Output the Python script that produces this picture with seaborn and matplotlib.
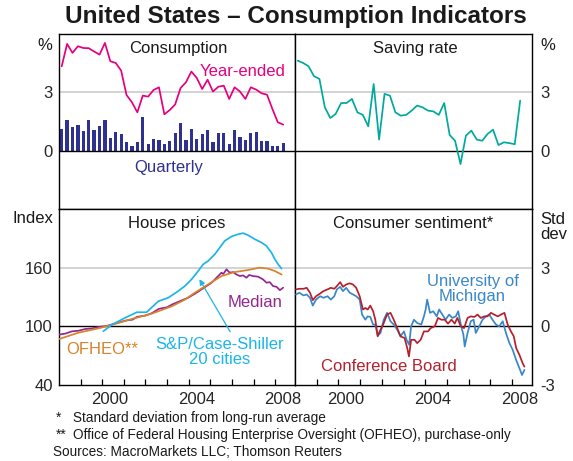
import numpy as np
import pandas as pd
import matplotlib.pyplot as plt
import seaborn as sns

# --- data ---
quarters = pd.period_range("1998Q1", "2008Q2", freq="Q")
qtr_x = quarters.year + (quarters.quarter - 0.5) / 4

cons_quarterly = [1.11, 1.6, 1.23, 1.32, 1.01, 1.6, 1.08, 1.27, 1.6, 0.67, 0.94, 0.86,
                  0.45, 0.24, 0.45, 1.75, 0.34, 0.6, 0.55, 0.34, 0.5, 0.91, 1.42, 0.55,
                  1.11, 0.6, 0.86, 1.06, 0.45, 0.91, 0.91, 0.34, 1.06, 0.7, 0.55, 0.91,
                  0.96, 0.5, 0.5, 0.24, 0.24, 0.39]
cons_year_ended = [4.34, 5.49, 5.03, 5.37, 5.28, 5.27, 5.1, 4.94, 5.54, 4.6, 4.51, 4.12,
                   2.86, 2.49, 1.97, 2.83, 2.78, 3.12, 3.26, 1.87, 2.09, 2.38, 3.22, 3.52,
                   4.07, 3.74, 3.17, 3.65, 3.04, 3.29, 3.34, 2.66, 3.26, 3.04, 2.66, 3.26,
                   3.14, 2.95, 2.88, 2.14, 1.46, 1.34]
saving_rate = [4.63, 4.51, 4.34, 3.83, 3.69, 2.23, 1.68, 1.89, 2.45, 2.45, 2.66, 1.97,
               1.84, 1.25, 3.43, 0.57, 2.92, 2.83, 1.97, 1.8, 1.84, 2.06, 2.32, 2.23,
               2.06, 2.02, 1.84, 2.45, 0.81, 0.51, -0.69, 0.77, 1.03, 0.57, 0.51, 0.86,
               1.08, 0.29, 0.43, 0.39, 0.33, 2.57]

cs_x = [2000.05, 2000.45, 2001.05, 2001.6, 2002.05, 2002.6, 2003.05, 2003.45, 2003.82,
        2004.13, 2004.44, 2004.67, 2004.9, 2005.21, 2005.44, 2005.67, 2005.98, 2006.29,
        2006.52, 2006.75, 2007.06, 2007.37, 2007.6, 2007.83, 2007.99, 2008.14, 2008.3]
cs_y = [95, 101.7, 108.6, 114.4, 114.4, 125.7, 129.2, 135, 141.1, 148, 156.5, 163.4,
        166.8, 173.7, 180.6, 187.4, 191.9, 194.2, 195.3, 193.2, 189.1, 185.7, 182.2,
        175.4, 168.5, 163.4, 159]

ofheo_x = [1998.0, 1998.9, 1999.84, 2000.45, 2001.38, 2002.3, 2003.23, 2003.8, 2004.28,
           2004.9, 2005.52, 2006.13, 2006.75, 2007.29, 2007.68, 2007.99, 2008.3]
ofheo_y = [87, 93.5, 98, 101.5, 107.6, 113, 120.6, 127, 134.3, 142.9, 151.4, 155.5,
           157.6, 160, 159, 156.5, 153]

median_x = [1998.0, 1998.3, 1998.6, 1998.9, 1999.22, 1999.5, 1999.84, 2000.2, 2000.69,
            2001.15, 2001.4, 2001.61, 2002.0, 2002.3, 2002.62, 2003.0, 2003.23, 2003.6,
            2003.97, 2004.3, 2004.59, 2005.06, 2005.29, 2005.52, 2005.6, 2005.75,
            2005.9, 2006.06, 2006.2, 2006.37, 2006.52, 2006.67, 2006.8, 2006.98,
            2007.21, 2007.44, 2007.6, 2007.75, 2007.91, 2008.06, 2008.22, 2008.37]
median_y = [91.5, 92.6, 94.9, 95.5, 97.3, 97.8, 99.4, 100.3, 103.5, 106.2, 106.8, 109.7,
            111, 113.5, 117.9, 119.5, 122.3, 125.8, 129.2, 133.5, 137.7, 144.6, 149.7,
            154.9, 153.5, 158.3, 154.9, 155.5, 153.2, 151.4, 152.1, 149.7, 152.5, 151.4,
            150.8, 148, 144.6, 145.2, 141.1, 140.5, 137, 139.5]

conf_x = [1998.05, 1998.2, 1998.39, 1998.54, 1998.69, 1998.82, 1998.97, 1999.16, 1999.31,
          1999.5, 1999.65, 1999.81, 1999.93, 2000.08, 2000.21, 2000.36, 2000.52, 2000.67,
          2000.82, 2000.98, 2001.13, 2001.24, 2001.35, 2001.47, 2001.6, 2001.7, 2001.81,
          2001.9, 2002.06, 2002.24, 2002.4, 2002.55, 2002.71, 2002.86, 2003.05, 2003.17,
          2003.25, 2003.35, 2003.51, 2003.63, 2003.79, 2003.94, 2004.13, 2004.25, 2004.44,
          2004.59, 2004.74, 2004.9, 2005.05, 2005.21, 2005.36, 2005.48, 2005.64, 2005.79,
          2005.95, 2006.1, 2006.26, 2006.41, 2006.56, 2006.72, 2006.87, 2007.03, 2007.18,
          2007.34, 2007.49, 2007.65, 2007.8, 2007.95, 2008.08, 2008.19, 2008.34, 2008.49,
          2008.57]
conf_y = [1.89, 1.92, 1.92, 1.97, 1.72, 1.34, 1.54, 1.68, 1.8, 1.89, 1.97, 1.92, 2.06,
          2.26, 2.02, 2.14, 2.2, 2.14, 1.97, 1.54, 0.86, 0.94, 0.86, 1.06, 0.77, 0.34,
          -0.51, -0.26, 0.09, 0.6, 0.69, 0.34, -0.09, -0.51, -0.6, -1.11, -1.54, -0.69,
          -0.69, -0.86, -0.69, -0.26, -0.26, -0.09, 0.0, 0.43, 0.34, 0.34, 0.14, 0.34,
          0.14, 0.43, 0.0, -0.09, 0.43, 0.51, 0.48, 0.6, 0.43, 0.51, 0.51, 0.69, 0.6,
          0.51, 0.6, 0.69, 0.09, -0.26, -0.51, -1.11, -1.46, -1.89, -2.06]

mich_x = [1998.05, 1998.2, 1998.39, 1998.54, 1998.69, 1998.82, 1998.97, 1999.16, 1999.31,
          1999.5, 1999.65, 1999.81, 1999.93, 2000.08, 2000.21, 2000.36, 2000.52, 2000.67,
          2000.82, 2000.98, 2001.09, 2001.24, 2001.35, 2001.47, 2001.6, 2001.7, 2001.81,
          2001.94, 2002.09, 2002.24, 2002.4, 2002.55, 2002.71, 2002.86, 2003.02, 2003.14,
          2003.26, 2003.35, 2003.48, 2003.63, 2003.82, 2003.94, 2004.02, 2004.09, 2004.22,
          2004.37, 2004.53, 2004.64, 2004.79, 2004.94, 2005.1, 2005.25, 2005.41, 2005.52,
          2005.64, 2005.76, 2005.82, 2005.95, 2006.1, 2006.23, 2006.33, 2006.49, 2006.64,
          2006.8, 2006.95, 2007.1, 2007.26, 2007.41, 2007.57, 2007.72, 2007.88, 2008.03,
          2008.19, 2008.34, 2008.46, 2008.57]
mich_y = [1.63, 1.72, 1.58, 1.63, 1.46, 1.06, 1.37, 1.54, 1.46, 1.54, 1.37, 1.54, 1.89,
          2.02, 1.8, 1.97, 1.72, 1.63, 1.54, 1.37, 0.6, 0.34, 0.51, 0.48, 0.09, 0.09,
          -0.48, -0.34, 0.34, 0.69, 0.26, 0.09, -0.17, -0.51, -0.26, -0.69, -0.94, 0.0,
          0.34, 0.17, 0.09, 0.51, 0.86, 1.37, 0.69, 0.77, 0.51, 0.86, 0.6, 0.34, 0.6, 0.43,
          0.51, 0.77, 0.09, -0.43, -1.03, -0.34, 0.26, 0.34, -0.34, 0.0, 0.34, 0.51, 0.6,
          0.34, 0.09, 0.0, 0.26, -0.34, -0.86, -1.2, -1.72, -2.14, -2.49, -2.23]

year_ticks = list(range(1999, 2009))
year_labels = ["2000", "2004", "2008"]

# --- style ---
sns.set_style("ticks")
plt.rcParams['font.family'] = ['Liberation Sans', 'DejaVu Sans']
plt.rcParams['text.color'] = '#1a1a1a'

MAGENTA = "#e6007e"
NAVY = "#2e3192"
TEAL = "#00a99d"
CYAN = "#1cb5e8"
ORANGE = "#d9822b"
PURPLE = "#93278f"
BLUE = "#3a87c8"
RED = "#b5202e"
GRID = "#c8c8c8"
LW = 1.25
FS = 12
FN = 9.8

W, H = 573, 461
fig = plt.figure(figsize=(W / 100, H / 100), dpi=100)


def add_panel(x0, y0, x1, y1):
    return fig.add_axes([x0 / W, 1 - y1 / H, (x1 - x0) / W, (y1 - y0) / H])


ax_tl = add_panel(59, 34, 295, 209)
ax_tr = add_panel(295, 34, 532, 209)
ax_bl = add_panel(59, 209, 295, 385)
ax_br = add_panel(295, 209, 532, 385)

# Consumption
sns.barplot(x=qtr_x, y=cons_quarterly, native_scale=True, width=0.6, color=NAVY,
            saturation=1, linewidth=0, ax=ax_tl, zorder=2)
sns.lineplot(x=qtr_x, y=cons_year_ended, color=MAGENTA, lw=LW, ax=ax_tl, zorder=3)

# Saving rate
sns.lineplot(x=qtr_x, y=saving_rate, color=TEAL, lw=LW, ax=ax_tr, zorder=3)

# House prices
sns.lineplot(x=median_x, y=median_y, color=PURPLE, lw=LW, ax=ax_bl, zorder=3)
sns.lineplot(x=ofheo_x, y=ofheo_y, color=ORANGE, lw=LW, ax=ax_bl, zorder=4)
sns.lineplot(x=cs_x, y=cs_y, color=CYAN, lw=LW, ax=ax_bl, zorder=5)

# Consumer sentiment
sns.lineplot(x=mich_x, y=mich_y, color=BLUE, lw=LW, ax=ax_br, zorder=3)
sns.lineplot(x=conf_x, y=conf_y, color=RED, lw=LW, ax=ax_br, zorder=4)

panels = [
    (ax_tl, (-3, 6), 0, 3, [0, 3], ["0", "3"], "left"),
    (ax_tr, (-3, 6), 0, 3, [0, 3], ["0", "3"], "right"),
    (ax_bl, (40, 220), 100, 160, [40, 100, 160], ["40", "100", "160"], "left"),
    (ax_br, (-3, 6), 0, 3, [-3, 0, 3], ["-3", "0", "3"], "right"),
]
for ax, ylim, base, grid, yt, ytl, side in panels:
    ax.set_xlim(1998, 2008.92)
    ax.set_ylim(*ylim)
    ax.axhline(grid, color=GRID, lw=1.1, zorder=1)
    ax.axhline(base, color="black", lw=1.0, zorder=2.5)
    ax.set_yticks(yt, ytl)
    if side == "right":
        ax.yaxis.tick_right()
        ax.tick_params(axis="y", length=0, pad=6, labelsize=FS, labelleft=False, labelright=True)
    else:
        ax.tick_params(axis="y", length=0, pad=4.5, labelsize=FS)
    ax.set_xlabel("")
    ax.set_ylabel("")
    for s in ax.spines.values():
        s.set_color("black")
        s.set_linewidth(1.0)
        s.set_visible(True)

for ax in (ax_tl, ax_tr):
    ax.set_xticks([])
for ax in (ax_bl, ax_br):
    ax.set_xticks(year_ticks, [""] * len(year_ticks))
    ax.set_xticks([2000.35, 2004.35, 2008.35], year_labels, minor=True)
    ax.tick_params(axis="x", which="major", direction="in", length=4.5, width=0.9,
                   color="black")
    ax.tick_params(axis="x", which="minor", length=0, pad=5, labelsize=FS)

# panel titles and labels
ax_tl.text(0.504, 0.918, "Consumption", transform=ax_tl.transAxes, ha="center",
           va="center", fontsize=FS)
ax_tl.text(0.78, 0.785, "Year-ended", transform=ax_tl.transAxes, ha="center",
           va="center", fontsize=FS, color=MAGENTA)
ax_tl.text(0.464, 0.236, "Quarterly", transform=ax_tl.transAxes, ha="center",
           va="center", fontsize=FS, color=NAVY)
ax_tr.text(0.506, 0.918, "Saving rate", transform=ax_tr.transAxes, ha="center",
           va="center", fontsize=FS)
ax_bl.text(0.5, 0.915, "House prices", transform=ax_bl.transAxes, ha="center",
           va="center", fontsize=FS)
ax_bl.text(0.83, 0.466, "Median", transform=ax_bl.transAxes, ha="center",
           va="center", fontsize=FS, color=PURPLE)
ax_bl.text(0.682, 0.189, "S&P/Case-Shiller\n20 cities", transform=ax_bl.transAxes,
           ha="center", va="center", fontsize=FS, color=CYAN, linespacing=1.0)
ax_bl.text(0.031, 0.199, "OFHEO**", transform=ax_bl.transAxes, ha="left",
           va="center", fontsize=FS, color=ORANGE)
ax_bl.annotate("", xy=(0.595, 0.601), xytext=(0.725, 0.303),
               xycoords="axes fraction", textcoords="axes fraction",
               arrowprops=dict(arrowstyle="-|>", color=CYAN, lw=0.9,
                               mutation_scale=8, shrinkA=0, shrinkB=0))
ax_br.text(0.5, 0.915, "Consumer sentiment*", transform=ax_br.transAxes, ha="center",
           va="center", fontsize=FS)
ax_br.text(0.749, 0.545, "University of\nMichigan", transform=ax_br.transAxes,
           ha="center", va="center", fontsize=FS, color=BLUE, linespacing=1.0)
ax_br.text(0.394, 0.104, "Conference Board", transform=ax_br.transAxes, ha="center",
           va="center", fontsize=FS, color=RED)

# axis unit labels
fig.text(52 / W, 1 - 45 / H, "%", ha="right", va="center", fontsize=FS)
fig.text(540 / W, 1 - 45 / H, "%", ha="left", va="center", fontsize=FS)
fig.text(53 / W, 1 - 218 / H, "Index", ha="right", va="center", fontsize=FS)
fig.text(540 / W, 1 - 227 / H, "Std\ndev", ha="left", va="center", fontsize=FS,
         linespacing=1.05)

# title and footnotes
fig.text(296 / W, 1 - 17 / H, "United States – Consumption Indicators", ha="center",
         va="center", fontsize=17.5, fontweight="bold")
fig.text(56 / W, 1 - 418 / H, "*", ha="left", va="center", fontsize=FN)
fig.text(73 / W, 1 - 418 / H, "Standard deviation from long-run average", ha="left",
         va="center", fontsize=FN)
fig.text(56 / W, 1 - 435 / H, "**", ha="left", va="center", fontsize=FN)
fig.text(73 / W, 1 - 435 / H,
         "Office of Federal Housing Enterprise Oversight (OFHEO), purchase-only",
         ha="left", va="center", fontsize=FN)
fig.text(53 / W, 1 - 452 / H, "Sources: MacroMarkets LLC; Thomson Reuters", ha="left",
         va="center", fontsize=FN)

fig.savefig("out.png", dpi=100)
